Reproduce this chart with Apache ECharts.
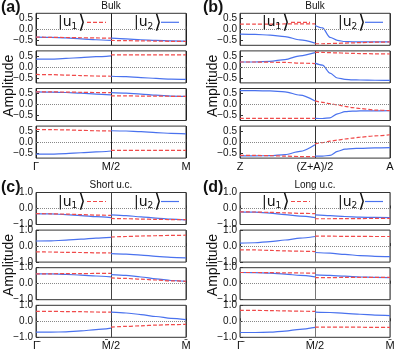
<!DOCTYPE html>
<html>
<head>
<meta charset="utf-8">
<script src="https://cdn.jsdelivr.net/npm/echarts@6/dist/echarts.min.js"></script>
<style>
html, body { margin: 0; padding: 0; background: #fff; }
#chart { width: 399px; height: 352px; }
</style>
</head>
<body>
<div id="chart"></div>
<script>
// positions along the k-path (0 = start, 0.5 = midpoint, 1 = end)
const xLeft = [0, 0.1, 0.2, 0.3, 0.4, 0.5];
const xRight = [0.5, 0.6, 0.7, 0.8, 0.9, 1.0];
const xRightB = [0.5, 0.55, 0.6, 0.65, 0.7, 0.75, 0.8, 0.9, 1.0];

const ticksBulkA = ['Γ', 'M/2', 'M'];
const ticksBulkB = ['Z', '(Z+A)/2', 'A'];
const ticksSlab = ['Γ\u0304', 'M\u0304/2', 'M\u0304'];

const titles = ['Bulk', 'Bulk', 'Short u.c.', 'Long u.c.'];
const panelTags = ['(a)', '(b)', '(c)', '(d)'];

// each entry: [left half, right half] for one of the four components
const aU1 = [
    [[-0.35, -0.36, -0.37, -0.38, -0.39, -0.40], [-0.50, -0.51, -0.52, -0.53, -0.54, -0.55]],
    [[-0.34, -0.35, -0.37, -0.39, -0.41, -0.42], [0.54, 0.54, 0.54, 0.54, 0.54, 0.54]],
    [[0.57, 0.57, 0.56, 0.55, 0.54, 0.53], [0.39, 0.39, 0.38, 0.38, 0.37, 0.37]],
    [[0.57, 0.56, 0.55, 0.53, 0.51, 0.50], [-0.37, -0.37, -0.37, -0.37, -0.37, -0.37]]
];
const aU2 = [
    [[-0.35, -0.36, -0.39, -0.43, -0.47, -0.50], [-0.40, -0.43, -0.47, -0.50, -0.52, -0.53]],
    [[0.35, 0.35, 0.38, 0.42, 0.46, 0.50], [-0.42, -0.44, -0.48, -0.52, -0.55, -0.56]],
    [[0.57, 0.56, 0.54, 0.51, 0.47, 0.43], [0.53, 0.51, 0.47, 0.42, 0.38, 0.37]],
    [[-0.54, -0.54, -0.52, -0.48, -0.44, -0.40], [0.51, 0.50, 0.47, 0.43, 0.39, 0.37]]
];

const bU1 = [
    [[0.23, 0.23, 0.23, 0.24, 0.24, 0.24], [-0.65, -0.65, -0.64, -0.63, -0.62, -0.61, -0.60, -0.58, -0.57]],
    [[0.22, 0.22, 0.21, 0.20, 0.17, 0.15], [0.65, 0.65, 0.64, 0.63, 0.62, 0.61, 0.60, 0.59, 0.58]],
    [[-0.62, -0.62, -0.62, -0.62, -0.62, -0.62], [0.16, 0.10, 0.04, -0.02, -0.08, -0.14, -0.18, -0.25, -0.28]],
    [[-0.60, -0.60, -0.61, -0.63, -0.65, -0.66], [-0.08, -0.02, 0.04, 0.09, 0.14, 0.18, 0.22, 0.28, 0.33]]
];
const bU2 = [
    [[-0.22, -0.23, -0.26, -0.33, -0.48, -0.62], [0.17, 0.06, -0.36, -0.50, -0.55, -0.56, -0.57, -0.57, -0.57]],
    [[0.22, 0.22, 0.25, 0.33, 0.50, 0.64], [0.17, 0.08, -0.28, -0.50, -0.56, -0.58, -0.59, -0.60, -0.61]],
    [[0.62, 0.62, 0.61, 0.57, 0.42, 0.16], [-0.62, -0.63, -0.60, -0.42, -0.32, -0.30, -0.29, -0.29, -0.28]],
    [[-0.62, -0.62, -0.61, -0.56, -0.42, -0.12], [-0.63, -0.63, -0.60, -0.42, -0.32, -0.29, -0.28, -0.26, -0.25]]
];

const cU1 = [
    [[-0.32, -0.33, -0.35, -0.38, -0.41, -0.43], [-0.62, -0.64, -0.66, -0.68, -0.69, -0.70]],
    [[-0.36, -0.37, -0.39, -0.40, -0.42, -0.43], [0.57, 0.60, 0.63, 0.65, 0.67, 0.68]],
    [[0.62, 0.62, 0.63, 0.63, 0.64, 0.64], [0.36, 0.33, 0.28, 0.23, 0.18, 0.15]],
    [[0.62, 0.62, 0.61, 0.60, 0.58, 0.57], [-0.36, -0.32, -0.28, -0.24, -0.21, -0.19]]
];
const cU2 = [
    [[-0.32, -0.34, -0.38, -0.44, -0.51, -0.57], [-0.40, -0.45, -0.52, -0.60, -0.67, -0.72]],
    [[0.32, 0.33, 0.37, 0.43, 0.50, 0.55], [-0.47, -0.50, -0.56, -0.64, -0.70, -0.74]],
    [[0.62, 0.61, 0.58, 0.54, 0.48, 0.43], [0.57, 0.52, 0.42, 0.30, 0.20, 0.15]],
    [[-0.68, -0.68, -0.66, -0.60, -0.52, -0.43], [0.57, 0.52, 0.42, 0.30, 0.18, 0.10]]
];

const dU1 = [
    [[-0.21, -0.22, -0.24, -0.27, -0.30, -0.32], [-0.64, -0.64, -0.63, -0.63, -0.62, -0.62]],
    [[-0.23, -0.24, -0.27, -0.30, -0.32, -0.34], [0.62, 0.62, 0.61, 0.61, 0.60, 0.60]],
    [[0.70, 0.70, 0.69, 0.68, 0.67, 0.66], [0.38, 0.38, 0.39, 0.39, 0.40, 0.40]],
    [[0.68, 0.68, 0.67, 0.65, 0.63, 0.62], [-0.36, -0.36, -0.37, -0.37, -0.38, -0.38]]
];
const dU2 = [
    [[-0.21, -0.23, -0.29, -0.38, -0.48, -0.57], [-0.40, -0.45, -0.50, -0.54, -0.56, -0.57]],
    [[0.19, 0.21, 0.28, 0.38, 0.50, 0.60], [-0.40, -0.44, -0.52, -0.59, -0.64, -0.66]],
    [[0.70, 0.69, 0.66, 0.60, 0.52, 0.43], [0.55, 0.52, 0.47, 0.42, 0.39, 0.38]],
    [[-0.70, -0.70, -0.68, -0.61, -0.50, -0.38], [0.57, 0.55, 0.50, 0.44, 0.39, 0.36]]
];

const FONT = 'Liberation Sans, Arial, sans-serif';
const RED = '#f04a4a';
const BLUE = '#4a72ee';

const panels = [
    {left: 36, top: 13.3, u1: aU1, u2: aU2, xr: xRight, ticks: ticksBulkA, ymax: 0.72, yTicks: [-0.5, 0, 0.5], mid: '#222'},
    {left: 240, top: 13.3, u1: bU1, u2: bU2, xr: xRightB, ticks: ticksBulkB, ymax: 0.72, yTicks: [-0.5, 0, 0.5], mid: '#333'},
    {left: 36, top: 192.5, u1: cU1, u2: cU2, xr: xRight, ticks: ticksSlab, ymax: 1, yTicks: [-1, 0, 1], mid: '#444'},
    {left: 240, top: 192.5, u1: dU1, u2: dU2, xr: xRight, ticks: ticksSlab, ymax: 1, yTicks: [-1, 0, 1], mid: '#777'}
];

function curve(xr, pair) {
    const pts = xLeft.map((x, i) => [x, pair[0][i]]);
    pts.push([0.5, '-']);
    xr.forEach((x, i) => pts.push([x, pair[1][i]]));
    return pts;
}

function fmtY(v) {
    return (v < 0 ? '\u2212' : '') + Math.abs(v).toFixed(1);
}

// ket label: |u_n> with a tall closing bracket
function ket(n) {
    return {
        text: '{k|\u007Cu}{s|' + n + '}{b|\u27E9}',
        rich: {
            k: {font: '14px DejaVu Sans', fill: '#111'},
            s: {font: '9px DejaVu Sans', fill: '#111', padding: [7, 1, 0, 0]},
            b: {font: '19px DejaVu Sans', fill: '#111'}
        },
        textVerticalAlign: 'middle'
    };
}

const grid = [], xAxis = [], yAxis = [], series = [], graphic = [];

panels.forEach((P, pi) => {
    for (let s = 0; s < 4; s++) {
        const g = grid.length;
        grid.push({
            left: P.left, top: P.top + s * 37.6, width: 150, height: 32,
            show: true, borderColor: '#333', borderWidth: 1, backgroundColor: 'transparent'
        });
        xAxis.push({
            type: 'value', gridIndex: g, min: 0, max: 1, interval: 0.5,
            axisLine: {show: false},
            axisTick: {show: true, inside: true, length: 3, lineStyle: {color: '#333'}},
            axisLabel: {
                show: s === 3, margin: 3, fontSize: 11, color: '#111', fontFamily: FONT,
                formatter: v => P.ticks[Math.round(v * 2)]
            },
            splitLine: {show: true, lineStyle: {color: P.mid, width: 1, type: 'solid'}}
        });
        yAxis.push({
            type: 'value', gridIndex: g, min: -P.ymax, max: P.ymax,
            axisLine: {show: false},
            axisTick: {show: true, inside: true, length: 3, customValues: P.yTicks, lineStyle: {color: '#333'}},
            axisLabel: {customValues: P.yTicks, formatter: fmtY, margin: 3, fontSize: 10, color: '#111', fontFamily: FONT},
            splitLine: {show: false}
        });
        series.push({
            type: 'line', name: 'u2', xAxisIndex: g, yAxisIndex: g,
            data: curve(P.xr, P.u2[s]), symbol: 'none', smooth: 0.3, smoothMonotone: 'x',
            lineStyle: {color: BLUE, width: 1.2}, z: 3
        });
        series.push({
            type: 'line', name: 'u1', xAxisIndex: g, yAxisIndex: g,
            data: curve(P.xr, P.u1[s]), symbol: 'none', smooth: 0.3, smoothMonotone: 'x',
            lineStyle: {color: RED, width: 1.2, type: [4, 2]}, z: 4,
            markLine: {
                silent: true, symbol: 'none', label: {show: false},
                lineStyle: {color: '#888', type: 'dotted', width: 1},
                data: [{yAxis: 0}]
            }
        });
    }

    // panel tag, title, y label and the in-plot legend
    const L = P.left, T = P.top;
    graphic.push({
        type: 'text', left: pi % 2 === 0 ? 1 : 203, top: T - 13.3,
        style: {text: panelTags[pi], font: 'bold 16px ' + FONT, fill: '#111'}
    });
    graphic.push({
        type: 'text', x: L + 75, y: T - 7,
        style: {text: titles[pi], font: '10px ' + FONT, fill: '#111', textAlign: 'center', textVerticalAlign: 'middle'}
    });
    graphic.push({
        type: 'text', x: L - 27, y: T + 72.5, rotation: Math.PI / 2,
        style: {text: 'Amplitude', font: '14px ' + FONT, fill: '#111', textAlign: 'center', textVerticalAlign: 'middle'}
    });
    graphic.push({type: 'text', x: L + 22, y: T + 9.5, style: ket('1'), z: 10});
    graphic.push({
        type: 'line', shape: {x1: L + 51, y1: T + 9, x2: L + 70, y2: T + 9},
        style: {stroke: RED, lineWidth: 1.2, lineDash: [4, 2]}
    });
    graphic.push({type: 'text', x: L + 98, y: T + 9.5, style: ket('2'), z: 10});
    graphic.push({
        type: 'line', shape: {x1: L + 125, y1: T + 9, x2: L + 143, y2: T + 9},
        style: {stroke: BLUE, lineWidth: 1.2}
    });
});

const chart = echarts.init(document.getElementById('chart'));
chart.setOption({
    animation: false,
    backgroundColor: '#fff',
    grid: grid,
    xAxis: xAxis,
    yAxis: yAxis,
    series: series,
    graphic: graphic
});
window.addEventListener('resize', () => chart.resize());
</script>
</body>
</html>
